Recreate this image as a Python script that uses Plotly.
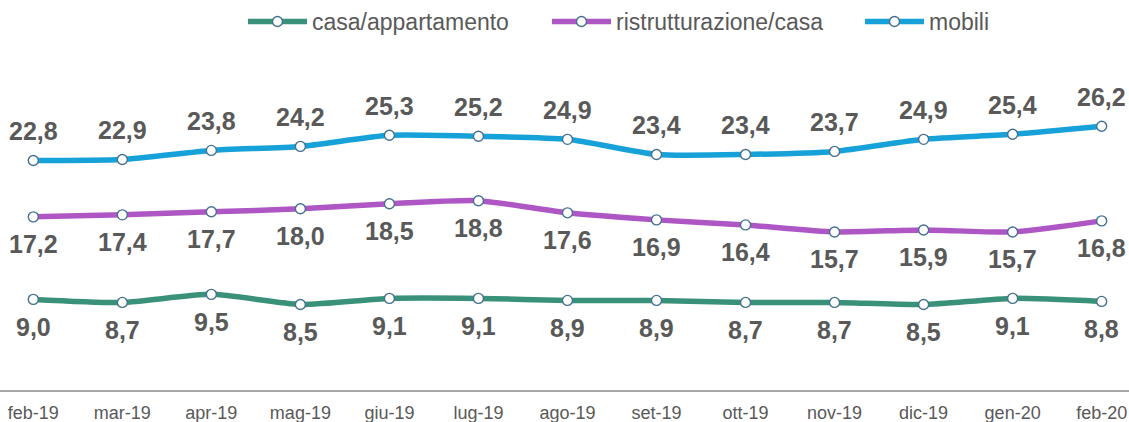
import plotly.graph_objects as go

months = ["feb-19", "mar-19", "apr-19", "mag-19", "giu-19", "lug-19", "ago-19",
          "set-19", "ott-19", "nov-19", "dic-19", "gen-20", "feb-20"]
casa = [9.0, 8.7, 9.5, 8.5, 9.1, 9.1, 8.9, 8.9, 8.7, 8.7, 8.5, 9.1, 8.8]
ristrutturazione = [17.2, 17.4, 17.7, 18.0, 18.5, 18.8, 17.6, 16.9, 16.4, 15.7, 15.9, 15.7, 16.8]
mobili = [22.8, 22.9, 23.8, 24.2, 25.3, 25.2, 24.9, 23.4, 23.4, 23.7, 24.9, 25.4, 26.2]

W = 1129
series = [
    ("casa/appartamento", casa, "#3A9179", -28, "legend", 249),
    ("ristrutturazione/casa", ristrutturazione, "#AE56C4", -27, "legend2", 553),
    ("mobili", mobili, "#16A1D9", 29, "legend3", 866),
]

FONT = "Liberation Sans, Arial, sans-serif"
fig = go.Figure()
xs = list(range(len(months)))
annotations = []
legends = {}
for name, vals, color, shift, leg, lx in series:
    fig.add_trace(go.Scatter(
        x=xs, y=vals, name=name, mode="lines+markers", legend=leg,
        line=dict(color=color, width=5.5, shape="spline", smoothing=0.6),
        marker=dict(size=10, color="white", line=dict(color="#45708F", width=1.4)),
        cliponaxis=False, hoverinfo="skip",
    ))
    legends[leg] = dict(orientation="h", x=(lx - 6) / W, xanchor="left",
                        y=1.0, yanchor="top", yref="container",
                        bgcolor="rgba(0,0,0,0)",
                        font=dict(family=FONT, size=23, color="#595959"),
                        itemwidth=59)
    for i, v in enumerate(vals):
        annotations.append(dict(
            x=i, y=v, yshift=shift, text="<b>" + f"{v:.1f}".replace(".", ",") + "</b>",
            showarrow=False, font=dict(family=FONT, size=25, color="#595959"),
        ))

fig.update_layout(
    width=W, height=422,
    margin=dict(l=0, r=0, t=88, b=32),
    paper_bgcolor="white", plot_bgcolor="white",
    font=dict(family=FONT, color="#595959"),
    showlegend=True,
    annotations=annotations,
    xaxis=dict(range=[-0.374, 12.307], tickvals=xs, ticktext=months,
               showgrid=False, zeroline=False, showline=True, linecolor="#A6A6A6",
               linewidth=2, ticks="", ticklabelstandoff=5, automargin=False,
               tickfont=dict(family=FONT, size=18, color="#595959")),
    yaxis=dict(range=[0, 30], visible=False, showgrid=False, zeroline=False,
               automargin=False),
    **legends,
)
fig.write_html("out.html", config={"displayModeBar": False},
               post_script="document.body.style.margin='0';")
